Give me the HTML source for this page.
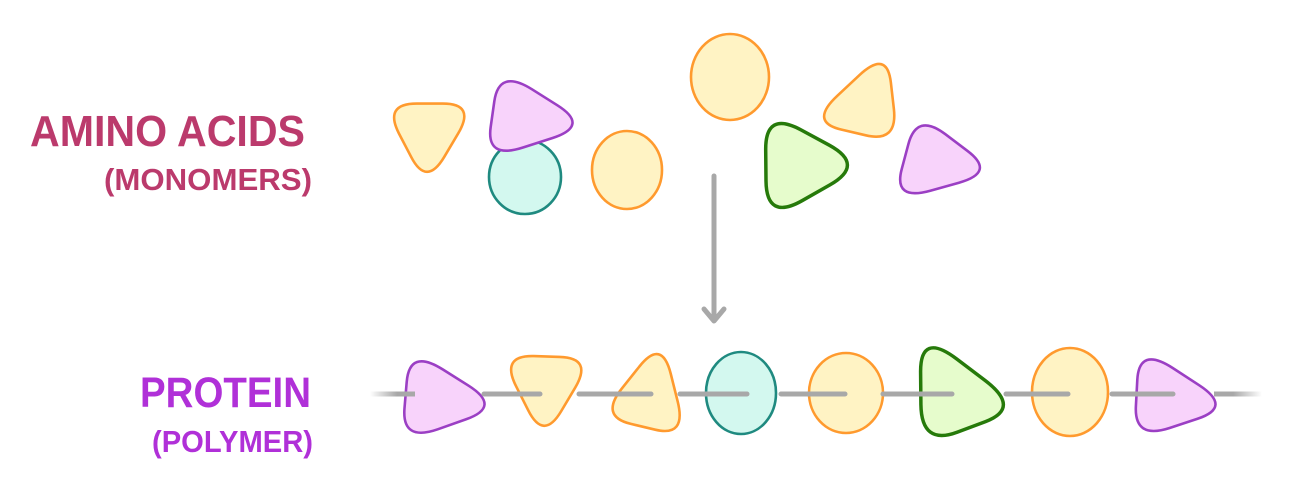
<!DOCTYPE html>
<html><head><meta charset="utf-8"><style>
html,body{margin:0;padding:0;background:#fff;}
svg{display:block}
</style></head><body>
<svg id="s" width="1302" height="491" viewBox="0 0 1302 491" xmlns="http://www.w3.org/2000/svg">
<defs>
<linearGradient id="fade" gradientUnits="userSpaceOnUse" x1="370" y1="0" x2="415" y2="0"><stop offset="0" stop-color="#a8a8a8" stop-opacity="0"/><stop offset="0.6" stop-color="#a8a8a8"/></linearGradient>
<linearGradient id="fade2" gradientUnits="userSpaceOnUse" x1="1214" y1="0" x2="1262" y2="0"><stop offset="0.4" stop-color="#a8a8a8"/><stop offset="1" stop-color="#a8a8a8" stop-opacity="0"/></linearGradient>
</defs>
<g font-family="Liberation Sans, sans-serif" font-weight="bold">
<text x="30" y="146" font-size="44" fill="#bb3a6c" textLength="275" lengthAdjust="spacingAndGlyphs">AMINO ACIDS</text>
<text x="104" y="190" font-size="31" fill="#bb3a6c" textLength="208" lengthAdjust="spacingAndGlyphs">(MONOMERS)</text>
<text x="140" y="407" font-size="43" fill="#b030d8" textLength="171" lengthAdjust="spacingAndGlyphs">PROTEIN</text>
<text x="152" y="452" font-size="31" fill="#b030d8" textLength="161" lengthAdjust="spacingAndGlyphs">(POLYMER)</text>
</g>
<g id="shapes"></g>
<g stroke-linecap="round" stroke-width="5" fill="none">
<rect x="370" y="391.5" width="45" height="5" fill="url(#fade)" stroke="none"/>
<g stroke="#a8a8a8">
<line x1="484" y1="394" x2="540" y2="394"/>
<line x1="579" y1="394" x2="651" y2="394"/>
<line x1="680" y1="394" x2="747" y2="394"/>
<line x1="781" y1="394" x2="845" y2="394"/>
<line x1="883" y1="394" x2="952" y2="394"/>
<line x1="1006" y1="394" x2="1068" y2="394"/>
<line x1="1112" y1="394" x2="1173" y2="394"/>
</g>
<rect x="1214" y="391.5" width="48" height="5" fill="url(#fade2)" stroke="none"/>
<g stroke="#a8a8a8">
<line x1="714" y1="176" x2="714" y2="320"/>
<polyline points="704,309 714,321 724,309" stroke-linejoin="round"/>
</g>
</g>
</svg>
<script>
var C={o:["#fff3c4","#ff9a2e"],p:["#f8d3fb","#9b3fc4"],t:["#d3f8ef","#1f8a80"],g:["#e6fccc","#267a0a"]};
var sh=[
["t",[394,110,465,110,427,174],"o"],
["e",525,177,36,37,"t"],
["t",[505,80,575,124,495,150],"p"],
["e",627,170,35,39,"o"],
["e",730,77,39,43,"o"],
["t",[882,62,890,134,822,118],"o"],
["t",[773,123,850,165,774,208],"g"],
["t",[921,124,982,170,903,192],"p"],
["t",[416,360,487,405,410,432],"p"],
["t",[511,362,582,364,544,428],"o"],
["t",[659,352,678,428,611,412],"o"],
["e",741,393,35,41,"t"],
["e",846,393,37,40,"o"],
["t",[928,346,1006,405,929,434],"g"],
["e",1070,392,38,44,"o"],
["t",[1146,358,1218,405,1142,430],"p"]
];
var g=document.getElementById("shapes"),h="";
function rt(p0,k){var cx=(p0[0]+p0[2]+p0[4])/3,cy=(p0[1]+p0[3]+p0[5])/3,p=[];
for(var j=0;j<6;j+=2){p.push(cx+(p0[j]-cx)*1.3,cy+(p0[j+1]-cy)*1.3);}
var s="";for(var i=0;i<3;i++){var V=[p[2*i],p[2*i+1]],P=[p[(2*i+4)%6],p[(2*i+5)%6]],N=[p[(2*i+2)%6],p[(2*i+3)%6]];
var A=[V[0]+(P[0]-V[0])*k,V[1]+(P[1]-V[1])*k],B=[V[0]+(N[0]-V[0])*k,V[1]+(N[1]-V[1])*k];
s+=(i?"L":"M")+A[0].toFixed(1)+" "+A[1].toFixed(1)+"Q"+V[0].toFixed(1)+" "+V[1].toFixed(1)+" "+B[0].toFixed(1)+" "+B[1].toFixed(1);}return s+"Z";}
sh.forEach(function(s){
if(s[0]=="t"){var c=C[s[2]];var sw=s[2]=="g"?3.5:2.6;h+='<path d="'+rt(s[1],0.36)+'" fill="'+c[0]+'" stroke="'+c[1]+'" stroke-width="'+sw+'" stroke-linejoin="round"/>';}
else{var c=C[s[5]];h+='<ellipse cx="'+s[1]+'" cy="'+s[2]+'" rx="'+s[3]+'" ry="'+s[4]+'" fill="'+c[0]+'" stroke="'+c[1]+'" stroke-width="2.6"/>';}
});
g.innerHTML=h;
</script>
</body></html>
